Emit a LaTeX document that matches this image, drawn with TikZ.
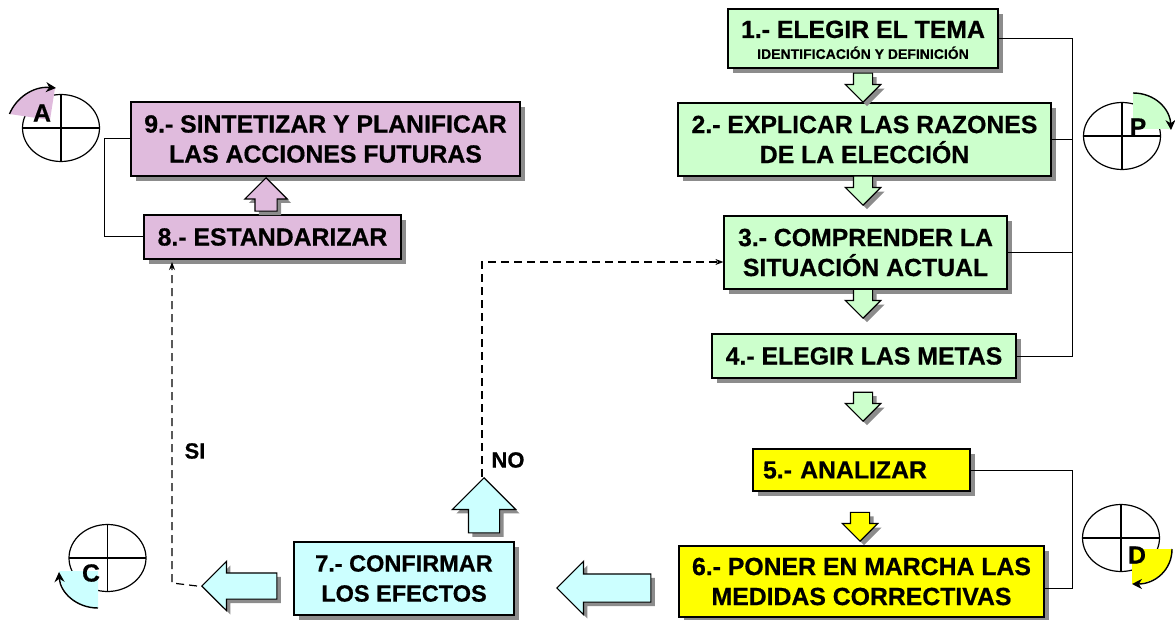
\documentclass[tikz,border=0pt]{standalone}
\usepackage{fontspec}
\setmainfont[BoldFeatures={FakeBold=0.6}]{Liberation Sans}
\usepackage{xcolor}
\usetikzlibrary{shapes.arrows,shadows,arrows.meta}
\definecolor{verde}{HTML}{CCFFCC}
\definecolor{rosa}{HTML}{E0BBDD}
\definecolor{amarillo}{HTML}{FFFF00}
\definecolor{celeste}{HTML}{CCFFFF}
\definecolor{sombra}{HTML}{8C8C8C}
\tikzset{
  paso/.style={draw=black, line width=1.2pt, align=center, inner sep=0pt,
    font=\fontsize{24.8}{30}\selectfont\bfseries,
    drop shadow={shadow xshift=5pt, shadow yshift=-5pt, fill=sombra, opacity=1}},
  flecha/.style={single arrow, draw=black, line width=1.2pt, anchor=tip,
    single arrow head indent=0pt,
    drop shadow={shadow xshift=4pt, shadow yshift=-4pt, fill=sombra, opacity=1}},
  abajo/.style={flecha, shape border rotate=270, fill=verde, minimum height=29pt,
    inner sep=9pt, single arrow head extend=8pt},
  linea/.style={draw=black, line width=1pt},
  salto/.style={draw=black, line width=1.2pt, dash pattern=on 8pt off 5pt, -{Stealth[length=8pt,width=6pt]}},
  aro/.style={draw=black, line width=1.2pt},
  etiqueta/.style={inner sep=0pt, font=\fontsize{24.8}{28}\selectfont\bfseries},
  giro/.style={draw=black, line width=1.4pt, -{Stealth[length=10pt,width=10pt]}}
}
\begin{document}
\begin{tikzpicture}[x=1pt, y=-1pt]
  \useasboundingbox (0,0) rectangle (1175,620);

  % pasos
  \node[paso, fill=verde, minimum width=270pt, minimum height=59pt] (tema) at (863,38.5)
    {\rule{0pt}{20pt}1.- ELEGIR EL TEMA\\[-9pt]{\fontsize{14}{15}\selectfont IDENTIFICACIÓN Y DEFINICIÓN}};
  \node[paso, fill=verde, minimum width=373pt, minimum height=73pt] (razones) at (864.5,139.5)
    {2.- EXPLICAR LAS RAZONES\\DE LA ELECCIÓN};
  \node[paso, fill=verde, minimum width=283pt, minimum height=73pt] (situacion) at (865.5,252.5)
    {3.- COMPRENDER LA\\SITUACIÓN ACTUAL};
  \node[paso, fill=verde, minimum width=304pt, minimum height=44pt] (metas) at (864,356)
    {4.- ELEGIR LAS METAS};
  \node[paso, fill=amarillo, minimum width=217pt, minimum height=42pt, text width=207pt, align=left] (analizar) at (861.5,470)
    {\hspace*{5pt}5.- ANALIZAR};
  \node[paso, fill=amarillo, minimum width=365pt, minimum height=71pt] (medidas) at (861.5,581.5)
    {6.- PONER EN MARCHA LAS\\MEDIDAS CORRECTIVAS};
  \node[paso, fill=celeste, minimum width=220pt, minimum height=73pt, font=\fontsize{23.5}{30}\selectfont\bfseries] (efectos) at (404,578.5)
    {7.- CONFIRMAR\\LOS EFECTOS};
  \node[paso, fill=rosa, minimum width=257pt, minimum height=44pt] (estandar) at (272.5,237)
    {8.- ESTANDARIZAR};
  \node[paso, fill=rosa, minimum width=389pt, minimum height=74pt] (sintesis) at (325.5,139)
    {9.- SINTETIZAR Y PLANIFICAR\\LAS ACCIONES FUTURAS};

  % flechas gruesas
  \node[abajo] (f1) at (863,103) {};
  \node[abajo] (f2) at (863,206) {};
  \node[abajo] (f3) at (863,319) {};
  \node[abajo] (f4) at (863,422) {};
  \node[abajo, fill=amarillo, minimum height=28pt, single arrow head extend=8pt] (f5) at (860,542) {};
  \node[abajo, shape border rotate=90, fill=rosa, inner sep=10.5pt,
    single arrow head extend=10pt] (f8) at (266,177) {};
  \node[flecha, shape border rotate=90, fill=celeste, minimum height=55pt, inner sep=15pt,
    single arrow head extend=16pt] (f7) at (484,477) {};
  \node[flecha, shape border rotate=180, fill=celeste, minimum height=75pt, inner sep=12.5pt,
    single arrow head extend=11.5pt] (fsi) at (201,586) {};
  \node[flecha, shape border rotate=180, fill=celeste, minimum height=94pt, inner sep=13.5pt,
    single arrow head extend=12.5pt] (fno) at (556,588) {};

  % lineas
  \coordinate (barraP) at (1072,200);
  \coordinate (barraD) at (1072,530);
  \draw[linea] (tema.east) -- (tema.east -| barraP) -- (metas.east -| barraP) -- (metas.east);
  \draw[linea] (razones.east) -- (razones.east -| barraP);
  \draw[linea] (situacion.east) -- (situacion.east -| barraP);
  \draw[linea] (analizar.east) -- (analizar.east -| barraD) -- ([yshift=-7pt]medidas.east -| barraD) -- ([yshift=-7pt]medidas.east);
  \coordinate (barraA) at (104,180);
  \draw[linea] (sintesis.west) -- (sintesis.west -| barraA) -- (estandar.west -| barraA) -- (estandar.west);

  \coordinate (codoSI) at (172,583);
  \coordinate (llegaSI) at (172,262);
  \draw[salto] ([xshift=-4pt]fsi.tip) -- (codoSI) -- (llegaSI);
  \coordinate (codoNO) at (482,262);
  \draw[salto] (f7.tip -| codoNO) -- (codoNO) -- (situacion.west |- codoNO);
  \node[etiqueta, font=\fontsize{22}{26}\selectfont\bfseries] (si) at (195,451) {SI};
  \node[etiqueta, font=\fontsize{22}{26}\selectfont\bfseries] (no) at (508,460) {NO};

  % circulos
  \foreach \cx/\cy/\nombre in {61/128/cA, 1122/136/cP, 1121/538/cD, 107.5/558/cC} {
    \draw[aro] (\cx,\cy) ellipse [x radius=38.5pt, y radius=33.5pt];
    \draw[aro] (\cx-38.5,\cy) -- (\cx+38.5,\cy);
    \draw[aro] (\cx,\cy-33.5) -- (\cx,\cy+33.5);
  }

  % sectores
  \fill[rosa] (50,120) -- (9.5,114) .. controls (16,98) and (33,86) .. (55,88) -- cycle;
  \draw[giro] (9.5,114) .. controls (16,98) and (33,86) .. (56,88);
  \fill[verde] (1133,129) -- (1133,93) .. controls (1155,93) and (1172,109) .. (1172,129) -- cycle;
  \draw[giro] (1133,93) .. controls (1155,93) and (1170,109) .. (1171,130);
  \fill[amarillo] (1132,549) -- (1172,549) .. controls (1172,570) and (1155,584) .. (1132,584) -- cycle;
  \draw[giro] (1172,549) .. controls (1172,570) and (1155,584) .. (1132,584);
  \fill[celeste] (98,571) -- (98,608) .. controls (76,608) and (60,592) .. (59,571) -- cycle;
  \draw[giro] (98,608) .. controls (76,608) and (60,592) .. (59,572);

  \node[etiqueta] (letraA) at (42,113) {A};
  \node[etiqueta] (letraP) at (1138,127) {P};
  \node[etiqueta] (letraD) at (1137,555) {D};
  \node[etiqueta] (letraC) at (91,573) {C};
\end{tikzpicture}
\end{document}
